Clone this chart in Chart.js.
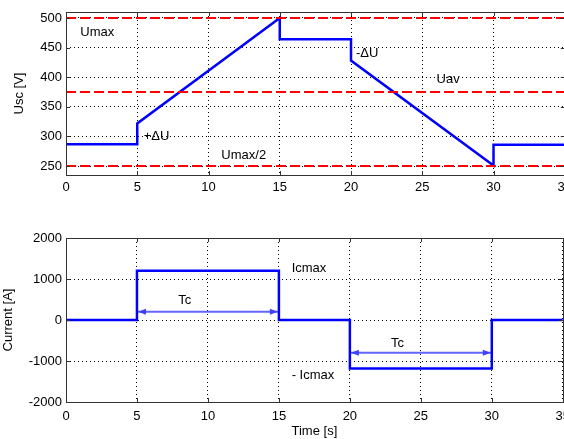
<!DOCTYPE html>
<html>
<head>
<meta charset="utf-8">
<script src="https://cdn.jsdelivr.net/npm/chart.js@4/dist/chart.umd.min.js"></script>
<style>
  html, body { margin: 0; padding: 0; background: #fff; overflow: hidden; width: 564px; height: 439px; }
  canvas { position: absolute; left: 0; }
  #usc { top: 0; }
  #cur { top: 220px; }
</style>
</head>
<body>
<!-- canvases are a bit wider than the page: the last x label is cut off like in the original -->
<canvas id="usc" width="577" height="200"></canvas>
<canvas id="cur" width="577" height="219"></canvas>
<script>
// time axis (s)
const timeTicks = [0, 5, 10, 15, 20, 25, 30, 35];

// capacitor voltage Usc [V]
const uscTime = [0, 5, 5, 15, 15, 20, 20, 30, 30, 35];
const uscValues = [287, 287, 322, 500, 464, 464, 428, 251, 286, 286];
const uLevels = [500, 375, 250]; // Umax, Uav, Umax/2
const uscTicks = [250, 300, 350, 400, 450, 500];

// current [A]
const curTime = [0, 5, 5, 15, 15, 20, 20, 30, 30, 35];
const curValues = [0, 0, 1200, 1200, 0, 0, -1180, -1180, 0, 0];
const curTicks = [-2000, -1000, 0, 1000, 2000];

// Tc spans (start, end, level)
const tcSpans = [[5, 15, 200], [20, 30, -800]];

// text notes
const uscNotes = [
  { text: "Umax", x: 1.0, y: 475 },
  { text: "+\u0394U", x: 5.45, y: 300 },
  { text: "-\u0394U", x: 20.35, y: 440 },
  { text: "Uav", x: 26.0, y: 397 },
  { text: "Umax/2", x: 10.9, y: 268 }
];
const curNotes = [
  { text: "Tc", x: 7.9, y: 470 },
  { text: "Icmax", x: 15.9, y: 1270 },
  { text: "Tc", x: 22.9, y: -560 },
  { text: "- Icmax", x: 15.9, y: -1350 }
];

const FONT = "'Liberation Sans', Arial, sans-serif";
Chart.defaults.font.family = FONT;
Chart.defaults.font.size = 13;
Chart.defaults.color = "#000";

function pts(xs, ys) {
  return xs.map((x, i) => ({ x: x, y: ys[i] }));
}

// frame, inward ticks and notes
const matlabLook = {
  id: "matlabLook",
  afterDatasetsDraw(chart, args, opts) {
    const ctx = chart.ctx;
    const a = chart.chartArea;
    const xs = chart.scales.x, ys = chart.scales.y;
    ctx.save();
    ctx.strokeStyle = "#333";
    ctx.lineWidth = 1;
    ctx.setLineDash([]);
    ctx.beginPath();
    xs.ticks.forEach(t => {
      const px = Math.round(xs.getPixelForValue(t.value)) + 0.5;
      ctx.moveTo(px, a.bottom); ctx.lineTo(px, a.bottom - 4);
      ctx.moveTo(px, a.top); ctx.lineTo(px, a.top + 4);
    });
    ys.ticks.forEach(t => {
      const py = Math.round(ys.getPixelForValue(t.value)) + 0.5;
      ctx.moveTo(a.left, py); ctx.lineTo(a.left + 4, py);
      ctx.moveTo(a.right, py); ctx.lineTo(a.right - 4, py);
    });
    ctx.stroke();
    ctx.strokeRect(Math.round(a.left) + 0.5, Math.round(a.top) + 0.5,
      Math.round(a.right - a.left), Math.round(a.bottom - a.top));

    // arrow heads
    (opts.spans || []).forEach(s => {
      const y = ys.getPixelForValue(s[2]);
      const x1 = xs.getPixelForValue(s[0]), x2 = xs.getPixelForValue(s[1]);
      ctx.fillStyle = "#4040ff";
      ctx.beginPath();
      ctx.moveTo(x1 + 1, y); ctx.lineTo(x1 + 9, y - 3); ctx.lineTo(x1 + 9, y + 3); ctx.closePath();
      ctx.moveTo(x2 - 1, y); ctx.lineTo(x2 - 9, y - 3); ctx.lineTo(x2 - 9, y + 3); ctx.closePath();
      ctx.fill();
    });

    ctx.fillStyle = "#000";
    ctx.font = "13px " + FONT;
    ctx.textAlign = "left";
    ctx.textBaseline = "middle";
    (opts.notes || []).forEach(n => {
      ctx.fillText(n.text, xs.getPixelForValue(n.x), ys.getPixelForValue(n.y));
    });
    ctx.restore();
  }
};

function axes(yMin, yMax, yTicks, yTitle, yTitlePad, xHeight, xPad, xTitle) {
  return {
    x: {
      type: "linear", min: 0, max: 35,
      afterBuildTicks: s => { s.ticks = timeTicks.map(v => ({ value: v })); },
      afterFit: s => { s.height = xHeight; },
      grid: { color: "#000", lineWidth: 1, drawTicks: false },
      border: { display: false, dash: [1, 3] },
      ticks: { padding: xPad, maxRotation: 0, autoSkip: false, callback: v => String(v) },
      title: { display: !!xTitle, text: xTitle || "", padding: 0, font: { size: 13 } }
    },
    y: {
      type: "linear", min: yMin, max: yMax,
      afterBuildTicks: s => { s.ticks = yTicks.map(v => ({ value: v })); },
      afterFit: s => { s.width = 66; },
      grid: { color: "#000", lineWidth: 1, drawTicks: false },
      border: { display: false, dash: [1, 3] },
      ticks: { padding: 4, autoSkip: false, callback: v => String(v) },
      title: { display: true, text: yTitle, padding: { top: yTitlePad, bottom: 0 }, font: { size: 13 } }
    }
  };
}

const common = {
  responsive: false,
  devicePixelRatio: 1,
  animation: false,
  events: [],
  plugins: { legend: { display: false }, tooltip: { enabled: false } },
  elements: { point: { radius: 0 }, line: { tension: 0 } }
};

new Chart(document.getElementById("usc"), {
  type: "scatter",
  data: {
    datasets: uLevels.map(u => ({
      data: pts([0, 35], [u, u]),
      showLine: true, borderColor: "#ff0000", borderWidth: 2, borderDash: [10, 4]
    })).concat([{
      data: pts(uscTime, uscValues),
      showLine: true, borderColor: "#0000ff", borderWidth: 2.5
    }])
  },
  options: Object.assign({}, common, {
    layout: { autoPadding: false, padding: { top: 12, right: 2, bottom: 0, left: 0 } },
    scales: axes(235, 510, uscTicks, "Usc [V]", 12, 25, 5, null),
    plugins: Object.assign({}, common.plugins, { matlabLook: { notes: uscNotes } })
  }),
  plugins: [matlabLook]
});

new Chart(document.getElementById("cur"), {
  type: "scatter",
  data: {
    datasets: [{
      data: pts(curTime, curValues),
      showLine: true, borderColor: "#0000ff", borderWidth: 2.5
    }].concat(tcSpans.map(s => ({
      data: pts([s[0], s[1]], [s[2], s[2]]),
      showLine: true, borderColor: "#6464ff", borderWidth: 2
    })))
  },
  options: Object.assign({}, common, {
    layout: { autoPadding: false, padding: { top: 18, right: 2, bottom: 0, left: 0 } },
    scales: axes(-2000, 2000, curTicks, "Current [A]", 1, 37, 7, "Time [s]"),
    plugins: Object.assign({}, common.plugins, { matlabLook: { notes: curNotes, spans: tcSpans } })
  }),
  plugins: [matlabLook]
});
</script>
</body>
</html>
